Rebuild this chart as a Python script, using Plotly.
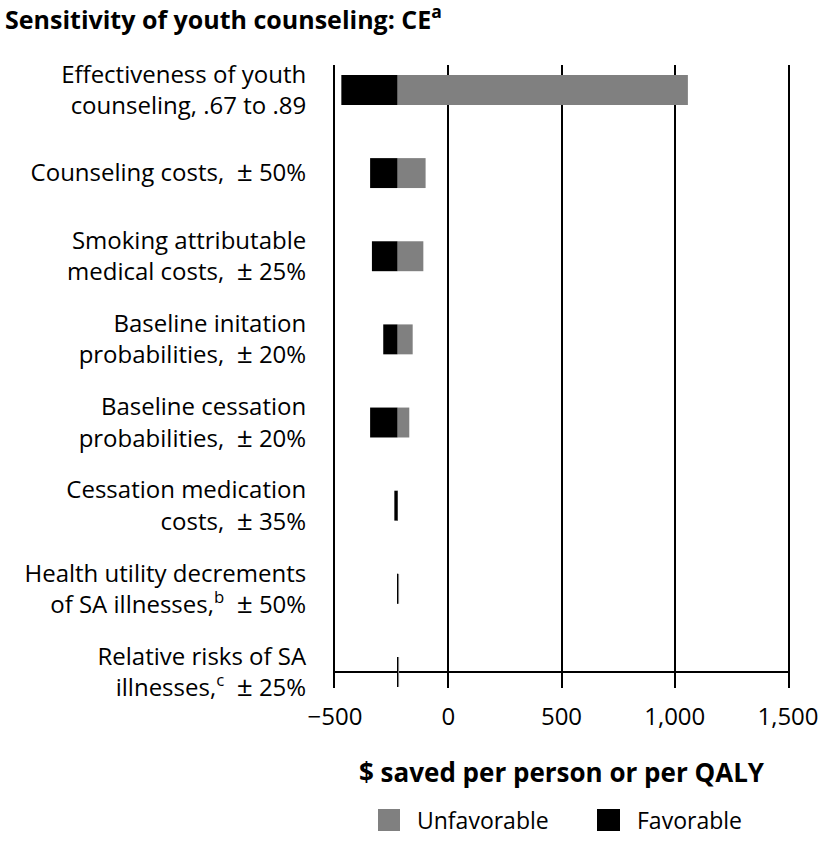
import plotly.graph_objects as go

PM = "<span style='font-size:28px'>±</span>"
categories = [
    "Effectiveness of youth<br>counseling, .67 to .89",
    f"Counseling costs,  {PM} 50%",
    f"Smoking attributable<br>medical costs,  {PM} 25%",
    f"Baseline initation<br>probabilities,  {PM} 20%",
    f"Baseline cessation<br>probabilities,  {PM} 20%",
    f"Cessation medication<br>costs,  {PM} 35%",
    f"Health utility decrements<br>of SA illnesses,<sup>b</sup>  {PM} 50%",
    f"Relative risks of SA<br>illnesses,<sup>c</sup>  {PM} 25%",
]
base_value = -224
favorable_end = [-472, -345, -337, -287, -345, -238, -226, -226]
unfavorable_end = [1058, -100, -110, -157, -172, -222, -217, -217]
x_ticks = [-500, 0, 500, 1000, 1500]
series_names = ["Unfavorable", "Favorable"]
series_colors = ["#808080", "#000000"]

n = len(categories)
ypos = [n - 1 - i for i in range(n)]

FONT = "Open Sans"

fig = go.Figure()
fig.add_trace(go.Bar(
    name=series_names[0], orientation="h", y=ypos,
    base=[base_value] * n,
    x=[u - base_value for u in unfavorable_end],
    marker=dict(color=series_colors[0], line=dict(width=0)),
    width=0.36, showlegend=False,
))
fig.add_trace(go.Bar(
    name=series_names[1], orientation="h", y=ypos,
    base=favorable_end,
    x=[base_value - f for f in favorable_end],
    marker=dict(color=series_colors[1], line=dict(width=0)),
    width=0.36, showlegend=False,
))

# plot area is at x 335..788, y 65..688 in the page (body margin removed)
PL, PR, PT, PB = 335, 788, 65, 688
FIG_W, FIG_H = 825, 848
def px(x):
    return (x - PL) / (PR - PL)
def py(y):
    return (PB - y) / (PB - PT)

shapes = []
annotations = [
    dict(text="<b>$ saved per person or per QALY</b>", xref="paper", yref="paper",
         x=0.5, y=py(772), xanchor="center", yanchor="middle", showarrow=False,
         font=dict(size=26, family=FONT)),
]
legend_sq = [(378, 400), (597, 620)]
legend_tx = [415, 635]
for name, col, (a, b), t in zip(series_names, series_colors, legend_sq, legend_tx):
    shapes.append(dict(type="rect", xref="paper", yref="paper",
                       x0=px(a), x1=px(b), y0=py(831), y1=py(809),
                       fillcolor=col, line=dict(width=0)))
    annotations.append(dict(text=name, xref="paper", yref="paper", x=px(t), y=py(820),
                            xanchor="left", yanchor="middle", showarrow=False,
                            font=dict(size=23, family=FONT)))

fig.update_layout(
    width=FIG_W, height=FIG_H,
    margin=dict(l=PL, r=FIG_W - PR, t=PT, b=FIG_H - PB, autoexpand=False),
    paper_bgcolor="white", plot_bgcolor="white",
    barmode="overlay",
    font=dict(family=FONT, size=24, color="black"),
    showlegend=False,
    title=dict(text="<b>Sensitivity of youth counseling: CE<sup>a</sup></b>",
               x=0, xanchor="left", xref="container", pad=dict(l=5, t=0),
               y=1 - 20 / FIG_H, yanchor="middle", yref="container",
               font=dict(size=25, family=FONT)),
    xaxis=dict(
        range=[-500, 1500], tickvals=x_ticks, tickformat=",",
        showgrid=True, gridcolor="black", gridwidth=2,
        showline=False, zeroline=False, ticks="",
        ticklabelstandoff=12, tickfont=dict(size=24),
        automargin=False,
    ),
    yaxis=dict(
        range=[-0.193, 7.30], tickvals=ypos, ticktext=categories,
        showgrid=False, zeroline=True, zerolinecolor="black", zerolinewidth=2,
        showline=True, mirror=True, linecolor="black", linewidth=2,
        ticks="", ticklabelstandoff=22,
        tickfont=dict(size=24), automargin=False,
    ),
    shapes=shapes,
    annotations=annotations,
)

fig.write_html(
    "out.html",
    config={"displayModeBar": False},
    post_script="document.body.style.margin='0';document.body.style.overflow='hidden';",
)
